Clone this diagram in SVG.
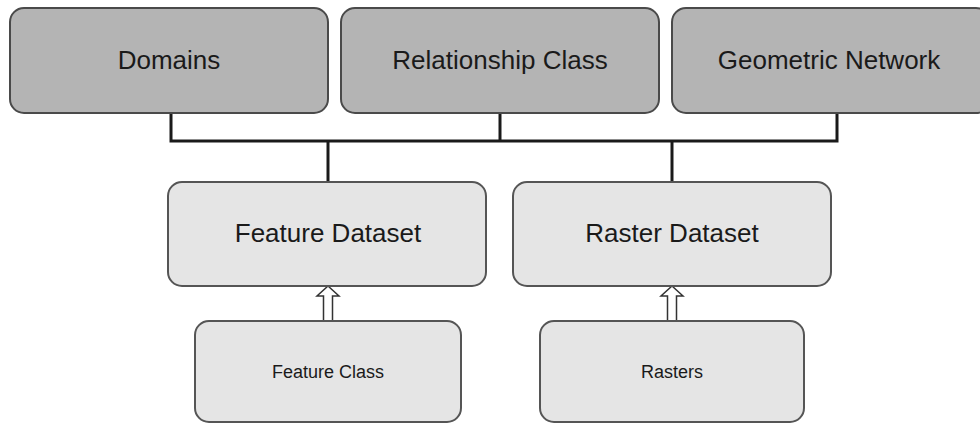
<svg xmlns="http://www.w3.org/2000/svg" width="980" height="423" viewBox="0 0 980 423">
  <style>
    .top rect { fill: #b4b4b4; stroke: #4a4a4a; stroke-width: 2; }
    .mid rect, .low rect { fill: #e5e5e5; stroke: #555555; stroke-width: 2; }
    text { font-family: "Liberation Sans", Arial, sans-serif; fill: #1a1a1a; text-anchor: middle; }
    .top text, .mid text { font-size: 26px; }
    .low text { font-size: 18px; }
    .link { fill: none; stroke: #1a1a1a; stroke-width: 3; }
    .up { fill: #ffffff; stroke: #333333; stroke-width: 1.5; stroke-linejoin: miter; }
  </style>
  <rect width="980" height="423" fill="#ffffff"/>

  <g id="connectors">
    <!-- tree joining the three top boxes to the two datasets -->
    <polyline class="link" points="171,113 171,141 837,141 837,113"/>
    <line class="link" x1="500" y1="113" x2="500" y2="141"/>
    <line class="link" x1="328" y1="141" x2="328" y2="182"/>
    <line class="link" x1="672" y1="141" x2="672" y2="182"/>
    <!-- hollow block arrows from the classes up to the datasets -->
    <polygon class="up" points="328,286 339,296 332.5,296 332.5,321 323.5,321 323.5,296 317,296"/>
    <polygon class="up" points="672,286 683,296 676.5,296 676.5,321 667.5,321 667.5,296 661,296"/>
  </g>

  <g id="domains" class="top">
    <rect x="10" y="8" width="318" height="105" rx="14"/>
    <text x="169" y="69">Domains</text>
  </g>
  <g id="relationship-class" class="top">
    <rect x="341" y="8" width="318" height="105" rx="14"/>
    <text x="500" y="69">Relationship Class</text>
  </g>
  <g id="geometric-network" class="top">
    <rect x="672" y="8" width="318" height="105" rx="14"/>
    <text x="829" y="69">Geometric Network</text>
  </g>

  <g id="feature-dataset" class="mid">
    <rect x="168" y="182" width="318" height="104" rx="14"/>
    <text x="328" y="242">Feature Dataset</text>
  </g>
  <g id="raster-dataset" class="mid">
    <rect x="513" y="182" width="318" height="104" rx="14"/>
    <text x="672" y="242">Raster Dataset</text>
  </g>

  <g id="feature-class" class="low">
    <rect x="195" y="321" width="266" height="101" rx="14"/>
    <text x="328" y="378">Feature Class</text>
  </g>
  <g id="rasters" class="low">
    <rect x="540" y="321" width="264" height="101" rx="14"/>
    <text x="672" y="378">Rasters</text>
  </g>
</svg>
